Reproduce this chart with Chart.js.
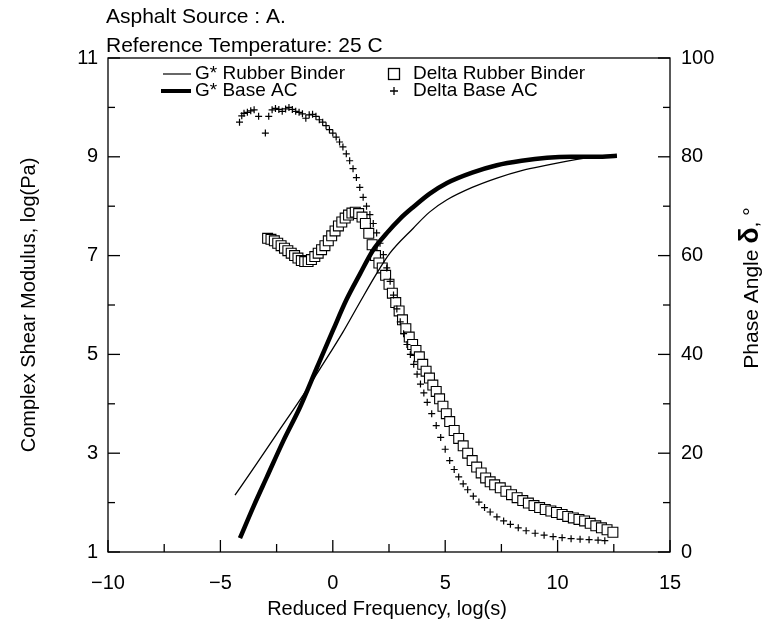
<!DOCTYPE html>
<html>
<head>
<meta charset="utf-8">
<script src="https://cdn.jsdelivr.net/npm/chart.js@4/dist/chart.umd.min.js"></script>
<style>
html,body{margin:0;padding:0;background:#fff;}
#wrap{width:766px;height:629px;position:relative;}
</style>
</head>
<body>
<div id="wrap"><canvas id="c" width="766" height="629"></canvas></div>
<script>
// ---- data ----
const titleLines = ["Asphalt Source : A.", "Reference Temperature: 25 C"];
const seriesNames = ["G* Rubber Binder", "G* Base AC", "Delta Rubber Binder", "Delta Base AC"];

const gRubberX = [-4.35, -3.4, -2.4, -1.46, -0.79, -0.12, 0.45, 1.2, 1.9, 2.54, 3.57, 4.3, 5.08, 6.2, 7.3, 8.4, 9.53, 11.0, 12.64];
const gRubberY = [2.15, 2.78, 3.45, 4.08, 4.55, 5.03, 5.45, 6.05, 6.6, 7.05, 7.55, 7.88, 8.13, 8.38, 8.57, 8.72, 8.83, 8.96, 9.02];

const gBaseX = [-4.13, -3.5, -2.93, -2.2, -1.46, -0.70, 0.01, 0.6, 1.2, 1.79, 2.41, 3.0, 3.57, 4.3, 5.08, 6.2, 7.3, 8.4, 9.53, 10.6, 11.75, 12.64];
const gBaseY = [1.28, 1.95, 2.52, 3.25, 3.93, 4.74, 5.49, 6.1, 6.62, 7.11, 7.46, 7.75, 7.98, 8.25, 8.47, 8.68, 8.83, 8.92, 8.98, 9.0, 9.0, 9.02];

const dRubberX = [-2.9, -2.75, -2.6, -2.45, -2.3, -2.15, -2.0, -1.85, -1.7, -1.55, -1.4, -1.25, -1.1, -0.95, -0.8, -0.65, -0.5, -0.35, -0.2, -0.05,
  0.1, 0.25, 0.4, 0.55, 0.7, 0.85, 1.0, 1.15, 1.3, 1.45, 1.6, 1.75, 1.9, 2.05, 2.2, 2.35, 2.5, 2.65, 2.8, 2.95,
  3.1, 3.25, 3.4, 3.55, 3.7, 3.85, 4.0, 4.15, 4.3, 4.45, 4.6, 4.75, 4.9, 5.05, 5.2, 5.4, 5.6, 5.8, 6.0, 6.2,
  6.4, 6.6, 6.8, 7.0, 7.2, 7.45, 7.7, 7.95, 8.2, 8.45, 8.7, 8.95, 9.2, 9.45, 9.7, 9.95, 10.2, 10.45, 10.7, 10.95,
  11.2, 11.45, 11.7, 11.95, 12.2, 12.46];
const dRubberY = [63.5, 63.3, 63.0, 62.5, 62.0, 61.5, 61.0, 60.5, 60.0, 59.5, 59.0, 58.8, 58.8, 59.2, 59.8, 60.5, 61.2, 62.0, 63.0, 64.0,
  65.0, 66.0, 66.8, 67.6, 68.2, 68.6, 68.8, 68.5, 67.8, 66.5, 64.5, 62.2, 60.0, 58.5, 57.5, 56.0, 54.2, 52.4, 50.5, 48.8,
  47.0, 45.2, 43.5, 42.0, 40.8, 39.5, 38.0, 36.6, 35.2, 33.8, 32.5, 31.0, 29.5, 28.0, 26.4, 24.6, 23.0, 21.5, 20.0, 18.5,
  17.2, 16.0, 15.0, 14.2, 13.6, 13.0, 12.3, 11.6, 11.0, 10.4, 9.9, 9.4, 9.0, 8.6, 8.3, 8.0, 7.6, 7.2, 6.9, 6.6,
  6.3, 5.8, 5.3, 4.9, 4.5, 4.0];

const dBaseX = [-4.15, -4.05, -3.95, -3.8, -3.65, -3.5, -3.3, -3.0, -2.85, -2.7, -2.55, -2.4, -2.25, -2.1, -1.95, -1.8, -1.65, -1.5, -1.35, -1.2,
  -1.05, -0.9, -0.75, -0.6, -0.45, -0.3, -0.15, 0.0, 0.15, 0.3, 0.45, 0.6, 0.75, 0.9, 1.05, 1.2, 1.35, 1.5, 1.65, 1.8,
  1.95, 2.1, 2.25, 2.4, 2.55, 2.7, 2.85, 3.0, 3.15, 3.3, 3.45, 3.6, 3.75, 3.9, 4.05, 4.2, 4.4, 4.6, 4.8, 5.0,
  5.2, 5.4, 5.6, 5.8, 6.0, 6.25, 6.5, 6.75, 7.0, 7.3, 7.6, 7.9, 8.25, 8.6, 9.0, 9.4, 9.8, 10.2, 10.6, 11.0,
  11.4, 11.8, 12.1];
const dBaseY = [87.0, 88.3, 88.8, 89.0, 89.3, 89.5, 88.2, 84.8, 88.2, 89.5, 89.8, 89.6, 89.2, 89.7, 90.0, 89.6, 89.2, 89.0, 88.7, 87.8,
  88.5, 88.6, 88.2, 87.5, 87.0, 86.3, 85.5, 84.8, 84.0, 83.0, 82.0, 80.6, 79.2, 77.6, 75.8, 73.8, 71.8, 70.0, 68.3, 66.5,
  64.6, 62.5, 60.2, 57.5, 54.8, 52.0, 49.2, 46.6, 44.2, 42.0, 40.0, 38.0, 36.0, 34.0, 32.2, 30.3, 28.0, 25.6, 23.2, 20.8,
  18.5, 16.7, 15.2, 13.8, 12.6, 11.3, 10.1, 9.0, 8.1, 7.1, 6.3, 5.6, 4.9, 4.3, 3.8, 3.4, 3.1, 2.9, 2.7, 2.6,
  2.5, 2.4, 2.3];

const xTickLabels = ["\u221210", "\u22125", "0", "5", "10", "15"];
const yLeftTickLabels = ["1", "3", "5", "7", "9", "11"];
const yRightTickLabels = ["0", "20", "40", "60", "80", "100"];

const xTitle = "Reduced Frequency, log(s)";
const yLeftTitle = "Complex Shear Modulus, log(Pa)";
const yRightTitle = ["Phase Angle ", "\u03B4", ", \u00B0"];

// ---- build ----
const pts = (xs, ys) => xs.map((x, i) => ({x: x, y: ys[i]}));
const FONT = "'Liberation Sans', Arial, sans-serif";

const decorPlugin = {
  id: 'decor',
  afterDraw(chart) {
    const ctx = chart.ctx;
    const a = chart.chartArea;
    const sx = chart.scales.x, sy = chart.scales.y, sy2 = chart.scales.y2;
    ctx.save();
    ctx.strokeStyle = '#000';
    ctx.lineWidth = 1.3;
    ctx.strokeRect(a.left, a.top, a.right - a.left, a.bottom - a.top);
    // inward ticks
    sx.ticks.forEach(t => {
      const px = sx.getPixelForValue(t.value);
      const major = Math.abs(t.value % 5) < 1e-6;
      const L = major ? 12 : 8;
      ctx.beginPath(); ctx.moveTo(px, a.bottom); ctx.lineTo(px, a.bottom - L); ctx.stroke();
    });
    sy.ticks.forEach(t => {
      const py = sy.getPixelForValue(t.value);
      const major = Math.abs(t.value % 2) > 0.5;
      const L = major ? 12 : 7;
      ctx.beginPath(); ctx.moveTo(a.left, py); ctx.lineTo(a.left + L, py); ctx.stroke();
    });
    sy2.ticks.forEach(t => {
      const py = sy2.getPixelForValue(t.value);
      const major = Math.abs(t.value % 20) < 1e-6;
      const L = major ? 12 : 7;
      ctx.beginPath(); ctx.moveTo(a.right, py); ctx.lineTo(a.right - L, py); ctx.stroke();
    });
    // titles
    ctx.fillStyle = '#000';
    ctx.textBaseline = 'middle';
    ctx.textAlign = 'left';
    ctx.font = "21px " + FONT;
    ctx.fillText(titleLines[0], 106, 17);
    ctx.fillText(titleLines[1], 106, 46);
    // legend
    ctx.font = "19px " + FONT;
    ctx.lineWidth = 1.2;
    ctx.beginPath(); ctx.moveTo(163, 74); ctx.lineTo(191, 74); ctx.stroke();
    ctx.fillText(seriesNames[0], 195, 74);
    ctx.lineWidth = 4;
    ctx.beginPath(); ctx.moveTo(161, 91); ctx.lineTo(191, 91); ctx.stroke();
    ctx.fillText(seriesNames[1], 195, 91);
    ctx.lineWidth = 1.3;
    ctx.strokeRect(388.5, 68.5, 11, 11);
    ctx.fillText(seriesNames[2], 413, 74);
    ctx.beginPath(); ctx.moveTo(390, 91); ctx.lineTo(398, 91); ctx.moveTo(394, 87); ctx.lineTo(394, 95); ctx.stroke();
    ctx.fillText(seriesNames[3], 413, 91);
    // axis titles
    ctx.font = "20px " + FONT;
    ctx.textAlign = 'center';
    ctx.fillText(xTitle, (a.left + a.right) / 2 - 2, 609);
    ctx.save();
    ctx.translate(29, (a.top + a.bottom) / 2);
    ctx.rotate(-Math.PI / 2);
    ctx.fillText(yLeftTitle, 0, 0);
    ctx.restore();
    ctx.save();
    ctx.translate(752, 288);
    ctx.rotate(-Math.PI / 2);
    ctx.textAlign = 'left';
    const f1 = "21px " + FONT, f2 = "bold 27px " + FONT;
    ctx.font = f1; const w1 = ctx.measureText(yRightTitle[0]).width;
    ctx.font = f2; const w2 = ctx.measureText(yRightTitle[1]).width;
    ctx.font = f1; const w3 = ctx.measureText(yRightTitle[2]).width;
    let x0 = -(w1 + w2 + w3) / 2;
    ctx.font = f1; ctx.fillText(yRightTitle[0], x0, 0);
    ctx.font = f2; ctx.fillText(yRightTitle[1], x0 + w1, -1);
    ctx.font = f1; ctx.fillText(yRightTitle[2], x0 + w1 + w2, 0);
    ctx.restore();
    ctx.restore();
  }
};

new Chart(document.getElementById('c'), {
  type: 'scatter',
  data: {
    datasets: [
      { label: seriesNames[0], data: pts(gRubberX, gRubberY), yAxisID: 'y', showLine: true,
        borderColor: '#000', borderWidth: 1.3, pointRadius: 0, cubicInterpolationMode: 'monotone', order: 0 },
      { label: seriesNames[1], data: pts(gBaseX, gBaseY), yAxisID: 'y', showLine: true,
        borderColor: '#000', borderWidth: 4.5, pointRadius: 0, cubicInterpolationMode: 'monotone', order: 0 },
      { label: seriesNames[2], data: pts(dRubberX, dRubberY), yAxisID: 'y2', showLine: false,
        pointStyle: 'rect', pointRadius: 7, pointBackgroundColor: '#fff', pointBorderColor: '#000', pointBorderWidth: 1.1, order: 2 },
      { label: seriesNames[3], data: pts(dBaseX, dBaseY), yAxisID: 'y2', showLine: false,
        pointStyle: 'cross', pointRadius: 3.5, pointBorderColor: '#000', pointBorderWidth: 1.2, order: 1 }
    ]
  },
  options: {
    responsive: false,
    animation: false,
    layout: { padding: { top: 58, left: 0, right: 0, bottom: 0 } },
    plugins: { legend: { display: false }, tooltip: { enabled: false } },
    scales: {
      x: {
        type: 'linear', min: -10, max: 15,
        grid: { display: false, drawTicks: false },
        border: { display: false },
        ticks: { stepSize: 2.5, padding: 19, color: '#000', font: { size: 20, family: FONT },
          maxRotation: 0, autoSkip: false,
          callback: (v) => { const i = [-10, -5, 0, 5, 10, 15].indexOf(v); return i >= 0 ? xTickLabels[i] : ''; } },
        afterFit: (s) => { s.height = 77; }
      },
      y: {
        type: 'linear', position: 'left', min: 1, max: 11,
        grid: { display: false, drawTicks: false },
        border: { display: false },
        ticks: { stepSize: 1, padding: 10, color: '#000', font: { size: 20, family: FONT }, autoSkip: false,
          callback: (v) => { const i = [1, 3, 5, 7, 9, 11].indexOf(v); return i >= 0 ? yLeftTickLabels[i] : ''; } },
        afterFit: (s) => { s.width = 108; }
      },
      y2: {
        type: 'linear', position: 'right', min: 0, max: 100,
        grid: { display: false, drawTicks: false },
        border: { display: false },
        ticks: { stepSize: 10, padding: 11, color: '#000', font: { size: 20, family: FONT }, autoSkip: false,
          callback: (v) => { const i = [0, 20, 40, 60, 80, 100].indexOf(v); return i >= 0 ? yRightTickLabels[i] : ''; } },
        afterFit: (s) => { s.width = 96; }
      }
    }
  },
  plugins: [decorPlugin]
});
</script>
</body>
</html>
